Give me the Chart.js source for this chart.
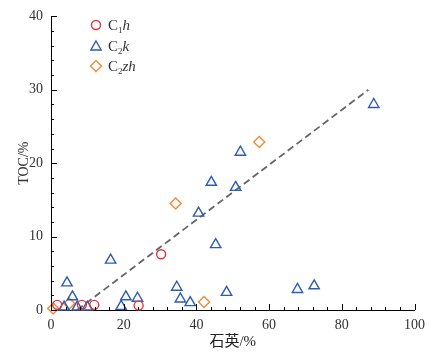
<!DOCTYPE html>
<html><head><meta charset="utf-8">
<script src="https://cdn.jsdelivr.net/npm/chart.js@4/dist/chart.umd.min.js"></script>
<style>html,body{margin:0;padding:0;background:#fff}canvas{display:block}</style>
</head><body>
<canvas id="c" width="432" height="357"></canvas>
<script>
// ---- data ----
const c1hX = [1.7, 8.5, 11.9, 24.1, 30.3];
const c1hY = [0.7, 0.7, 0.7, 0.6, 7.6];
const c2kX = [3.6, 4.4, 5.9, 7.2, 10.0, 16.4, 19.3, 20.6, 23.8, 34.6, 35.6, 38.3, 40.6, 44.1, 45.3, 48.3, 50.8, 52.1, 67.8, 72.4, 88.8];
const c2kY = [0.4, 3.7, 1.8, 0.4, 0.4, 6.8, 0.5, 1.8, 1.6, 3.1, 1.5, 1.0, 13.2, 17.4, 8.9, 2.4, 16.7, 21.5, 2.8, 3.3, 28.0];
const c2zhX = [0.6, 5.0, 34.3, 42.1, 57.3];
const c2zhY = [0.2, 0.9, 14.5, 1.1, 22.9];
const trendX = [7.2, 87.3];
const trendY = [0, 30];
const xTicks = [0, 20, 40, 60, 80, 100];
const yTicks = [0, 10, 20, 30, 40];
const xTitle = '石英/%';
const yTitle = 'TOC/%';
// legend labels: [base, subscript, italic suffix]
const legendLabels = [['C', '1', 'h'], ['C', '2', 'k'], ['C', '2', 'zh']];

const RED = '#e8343a', BLUE = '#2c5cb4', ORANGE = '#f08a3a';
const SERIF = '"Liberation Serif", "Times New Roman", serif';

function pts(xs, ys) { return xs.map((x, i) => ({ x: x, y: ys[i] })); }

const tickPlugin = {
  id: 'inwardTicks',
  afterDraw(chart) {
    const { ctx, scales: { x, y }, chartArea: a } = chart;
    ctx.save();
    ctx.strokeStyle = '#000';
    ctx.lineWidth = 1;
    for (let v = x.min; v <= x.max + 1e-9; v += 4) {
      const px = Math.round(x.getPixelForValue(v)) + 0.5;
      const len = xTicks.includes(v) ? 6 : 3;
      ctx.beginPath(); ctx.moveTo(px, a.bottom); ctx.lineTo(px, a.bottom - len); ctx.stroke();
    }
    for (let v = y.min; v <= y.max + 1e-9; v += 2) {
      const py = Math.round(y.getPixelForValue(v)) + 0.5;
      const len = yTicks.includes(v) ? 6 : 3;
      ctx.beginPath(); ctx.moveTo(a.left, py); ctx.lineTo(a.left + len, py); ctx.stroke();
    }
    ctx.restore();
  }
};

function marker(ctx, kind, cx, cy, color) {
  ctx.save();
  ctx.strokeStyle = color; ctx.lineWidth = 1.4;
  ctx.beginPath();
  if (kind === 'circle') {
    ctx.arc(cx, cy, 4.5, 0, Math.PI * 2);
  } else if (kind === 'triangle') {
    const r = 6;
    ctx.moveTo(cx, cy - r);
    ctx.lineTo(cx + r * Math.sin(Math.PI / 3), cy + r / 2);
    ctx.lineTo(cx - r * Math.sin(Math.PI / 3), cy + r / 2);
    ctx.closePath();
  } else {
    const r = 5.5;
    ctx.moveTo(cx, cy - r); ctx.lineTo(cx + r, cy); ctx.lineTo(cx, cy + r); ctx.lineTo(cx - r, cy);
    ctx.closePath();
  }
  ctx.stroke();
  ctx.restore();
}

const legendPlugin = {
  id: 'customLegend',
  afterDraw(chart) {
    const ctx = chart.ctx;
    const kinds = ['circle', 'triangle', 'rectRot'];
    const colors = [RED, BLUE, ORANGE];
    const x0 = 96, y0 = 25, dy = 20.5;
    legendLabels.forEach((lab, i) => {
      const cy = y0 + i * dy;
      marker(ctx, kinds[i], x0, i === 1 ? cy + 1.5 : cy, colors[i]);
      ctx.save();
      ctx.fillStyle = '#333';
      ctx.textBaseline = 'alphabetic';
      let tx = 108;
      const base = cy + 5;
      ctx.font = '15px ' + SERIF;
      ctx.fillText(lab[0], tx, base);
      tx += ctx.measureText(lab[0]).width;
      ctx.font = '9px ' + SERIF;
      ctx.fillText(lab[1], tx, base + 3);
      tx += ctx.measureText(lab[1]).width;
      ctx.font = 'italic 15px ' + SERIF;
      ctx.fillText(lab[2], tx, base);
      ctx.restore();
    });
  }
};

new Chart(document.getElementById('c'), {
  type: 'scatter',
  data: {
    datasets: [
      { label: 'C1h', data: pts(c1hX, c1hY), pointStyle: 'circle', pointRadius: 4.5, pointHoverRadius: 4.5,
        borderColor: RED, backgroundColor: 'rgba(0,0,0,0)', pointBorderWidth: 1.4, clip: false },
      { label: 'C2k', data: pts(c2kX, c2kY), pointStyle: 'triangle', pointRadius: 6, pointHoverRadius: 6,
        borderColor: BLUE, backgroundColor: 'rgba(0,0,0,0)', pointBorderWidth: 1.4, clip: false },
      { label: 'C2zh', data: pts(c2zhX, c2zhY), pointStyle: 'rectRot', pointRadius: 5.5, pointHoverRadius: 5.5,
        borderColor: ORANGE, backgroundColor: 'rgba(0,0,0,0)', pointBorderWidth: 1.4, clip: false },
      { label: 'trend', type: 'line', data: pts(trendX, trendY), showLine: true, pointRadius: 0,
        borderColor: '#666', borderWidth: 1.8, borderDash: [7, 4], fill: false }
    ]
  },
  options: {
    responsive: false,
    devicePixelRatio: 1,
    animation: false,
    layout: { padding: { top: 7, right: 5, left: 0, bottom: 0 } },
    plugins: { legend: { display: false }, tooltip: { enabled: false } },
    scales: {
      x: {
        type: 'linear', min: 0, max: 100,
        afterFit(s) { s.height = 47; },
        afterBuildTicks(s) { s.ticks = xTicks.map(v => ({ value: v })); },
        grid: { display: true, drawOnChartArea: false, drawTicks: false },
        border: { display: true, color: '#000', width: 1 },
        ticks: { padding: 7, color: '#333', font: { family: SERIF, size: 14 } },
        title: { display: true, text: xTitle, color: '#222', padding: { top: 0, bottom: 6 },
                 font: { family: '"Liberation Serif", "Noto Sans CJK SC", serif', size: 15 } }
      },
      y: {
        type: 'linear', min: 0, max: 40,
        afterFit(s) { s.width = 51; },
        afterBuildTicks(s) { s.ticks = yTicks.map(v => ({ value: v })); },
        grid: { display: true, drawOnChartArea: false, drawTicks: false },
        border: { display: true, color: '#000', width: 1 },
        ticks: { padding: 8, color: '#333', font: { family: SERIF, size: 14 } },
        title: { display: true, text: yTitle, color: '#333', padding: { top: 16, bottom: 0 },
                 font: { family: SERIF, size: 14 } }
      }
    }
  },
  plugins: [tickPlugin, legendPlugin]
});
</script>
</body></html>
